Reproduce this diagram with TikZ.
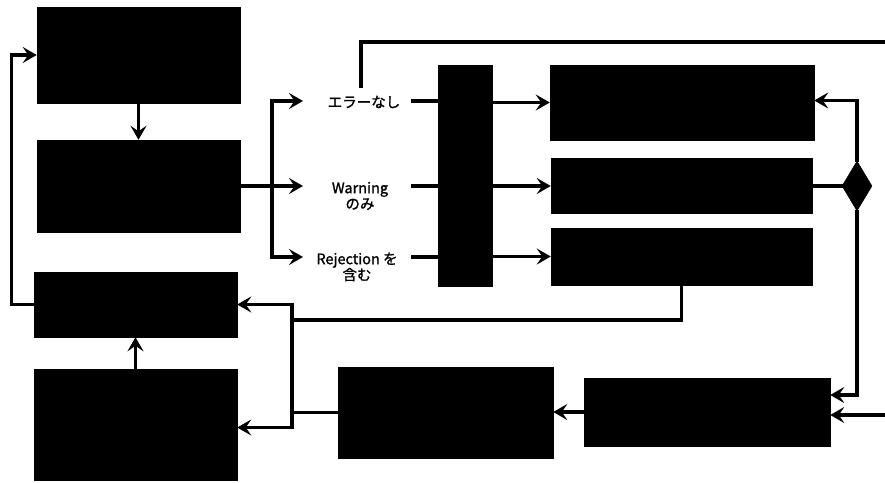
\documentclass[tikz,border=0pt]{standalone}
\usepackage{fontspec}
\setmainfont{Noto Sans CJK JP}
\newfontfamily\lblfont{Noto Sans CJK JP}[FakeBold=1.3]
\usetikzlibrary{arrows.meta,shapes.geometric,calc}
\begin{document}
\begin{tikzpicture}[x=1pt,y=-1pt,
  box/.style={draw=black,fill=black,inner sep=0pt,line width=0.5pt},
  lbl/.style={font=\lblfont\fontsize{14.5}{16}\selectfont,align=center,inner sep=1pt},
  conn/.style={line width=3.2pt,line cap=rect},
  arr/.style={conn,-{Stealth[length=14pt,width=16pt,inset=5.5pt]}}]
\useasboundingbox (0,0) rectangle (885,482);
% boxes
\node[box,minimum width=203pt,minimum height=96pt] (A) at (138.5,55) {};
\node[box,minimum width=203pt,minimum height=92pt] (B) at (138.5,186) {};
\node[box,minimum width=203pt,minimum height=65pt] (C) at (135.5,304.5) {};
\node[box,minimum width=203pt,minimum height=111pt] (D) at (135.5,424.5) {};
\node[box,minimum width=215pt,minimum height=91pt] (E) at (445.5,412.5) {};
\node[box,minimum width=246pt,minimum height=68pt] (F) at (707,412) {};
\node[box,minimum width=54pt,minimum height=221pt] (G) at (465,175.5) {};
\node[box,minimum width=264pt,minimum height=75pt] (H1) at (682,102.5) {};
\node[box,minimum width=261pt,minimum height=55pt] (H2) at (681.5,186) {};
\node[box,minimum width=261pt,minimum height=57pt] (H3) at (681.5,256.5) {};
\node[box,diamond,minimum width=30pt,minimum height=50pt,aspect=0.6] (dia) at (857,186) {};
% labels
\node[lbl] (L1) at (364,102) {エラーなし};
\node[lbl] (L2) at (360,196) {Warning\\のみ};
\node[lbl] (L3) at (357,267) {Rejection を\\含む};
% coordinates
\coordinate (j) at (272,186);
\coordinate (t1) at (303,101);
\coordinate (t2) at (303,186);
\coordinate (t3) at (303,257);
\coordinate (s1) at (413,101);
\coordinate (s2) at (413,186);
\coordinate (s3) at (413,257);
\coordinate (u0) at (361,86);
\coordinate (u1) at (885,42);
\coordinate (rin) at (885,415);
\coordinate (v) at (292,412);
\coordinate (w) at (292,320);
% connectors
\draw[arr] (A.south) -- (B.north);
\draw[conn] (B.east |- j) -- (j);
\draw[arr] (j) -- (t2);
\draw[arr] (j) |- (t1);
\draw[arr] (j) |- (t3);
\draw[conn] (s1) -- (s1 -| G.west);
\draw[conn] (s2) -- (s2 -| G.west);
\draw[conn] (s3) -- (s3 -| G.west);
\draw[arr] (H1.west -| G.east) -- (H1.west);
\draw[arr] (H2.west -| G.east) -- (H2.west);
\draw[arr] (H3.west -| G.east) -- (H3.west);
\draw[conn] (u0) |- (u1);
\draw[conn] (H2.east) -- (dia.west);
\draw[arr] (dia.north) |- ([yshift=2pt]H1.east);
\draw[arr] (dia.south) |- ([yshift=17pt]F.east);
\draw[arr] (rin) -- ([yshift=-3pt]F.east);
\draw[arr] (F.west) -- (F.west -| E.east);
\draw[conn] (E.west) -- (E.west -| v);
\draw[arr] (v) |- (C.east);
\draw[arr] (v) |- ([yshift=-3pt]D.east);
\draw[conn] (H3.south) |- (w);
\draw[arr] (D.north) -- (C.south);
\draw[arr] (C.west) -- ++(-22,0) |- (A.west);
\end{tikzpicture}
\end{document}
